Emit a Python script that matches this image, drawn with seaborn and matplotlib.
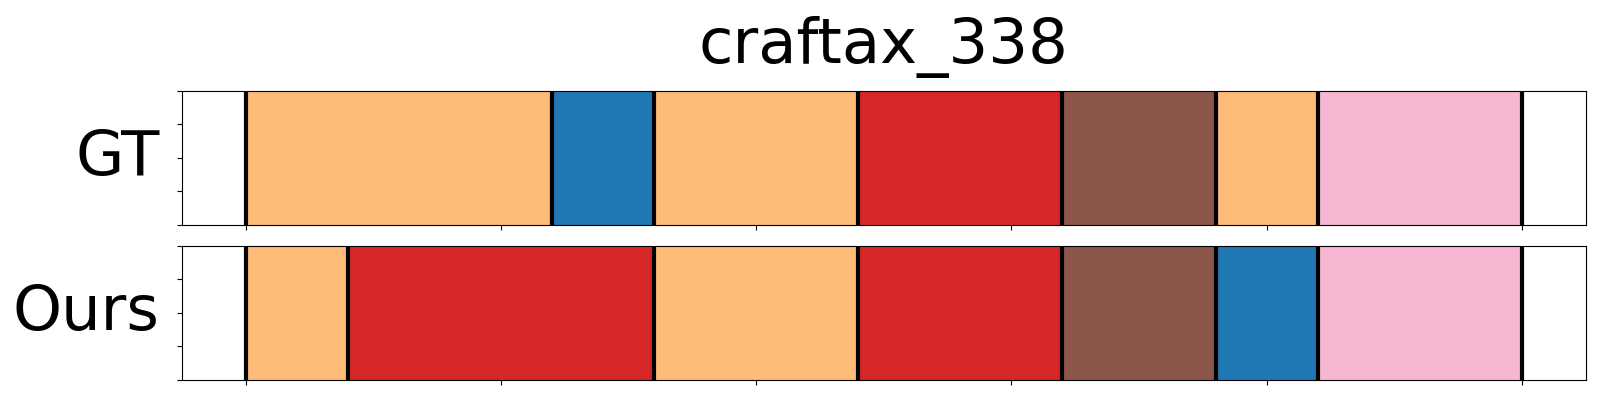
import matplotlib
matplotlib.use("Agg")
import matplotlib.pyplot as plt
from matplotlib.colors import ListedColormap
import seaborn as sns
import numpy as np

title = "craftax_338"
row_names = ["GT", "Ours"]

# action classes and their colours
classes = ["craft", "place", "attack", "mine", "sleep"]
class_colors = ["#ffbb78", "#1f77b4", "#d62728", "#8c564b", "#f7b6d2"]

# segments: (class, length in frames)
gt_labels = ["craft", "place", "craft", "attack", "mine", "craft", "sleep"]
gt_lengths = [24, 8, 16, 16, 12, 8, 16]
ours_labels = ["craft", "attack", "craft", "attack", "mine", "place", "sleep"]
ours_lengths = [8, 24, 16, 16, 12, 8, 16]

x_ticks = [0, 20, 40, 60, 80, 100]


def frames_from_segments(labels, lengths):
    idx = [classes.index(l) for l in labels]
    return np.repeat(idx, lengths)


def draw_row(ax, labels, lengths, name):
    frames = frames_from_segments(labels, lengths)
    cmap = ListedColormap(class_colors)
    sns.heatmap(frames[None, :], cmap=cmap, vmin=-0.5, vmax=len(classes) - 0.5,
                cbar=False, ax=ax, xticklabels=False, yticklabels=False)
    bounds = np.concatenate([[0], np.cumsum(lengths)])
    for b in bounds:
        ax.axvline(b, color="black", linewidth=3)
    total = bounds[-1]
    ax.set_xlim(-0.05 * total, 1.05 * total)
    ax.set_ylim(0, 1)
    ax.set_xticks(x_ticks)
    ax.set_xticklabels([])
    ax.set_yticks([0, 0.25, 0.5, 0.75, 1.0])
    ax.set_yticklabels([])
    ax.tick_params(axis="both", length=3.5, width=0.8, color="black")
    for s in ax.spines.values():
        s.set_visible(True)
        s.set_color("black")
        s.set_linewidth(0.8)
    ax.set_ylabel(name, fontsize=45, rotation=0, ha="right", va="center",
                  color="black", labelpad=9)


sns.set_style("ticks")
fig = plt.figure(figsize=(16, 4), dpi=100)
ax1 = fig.add_axes([0.1136, 0.4375, 0.8775, 0.3357])
ax2 = fig.add_axes([0.1136, 0.05, 0.8775, 0.3357])

draw_row(ax1, gt_labels, gt_lengths, row_names[0])
draw_row(ax2, ours_labels, ours_lengths, row_names[1])
ax1.set_title(title, fontsize=45, color="black", pad=20)

fig.savefig("out.png", dpi=100)
plt.close()
